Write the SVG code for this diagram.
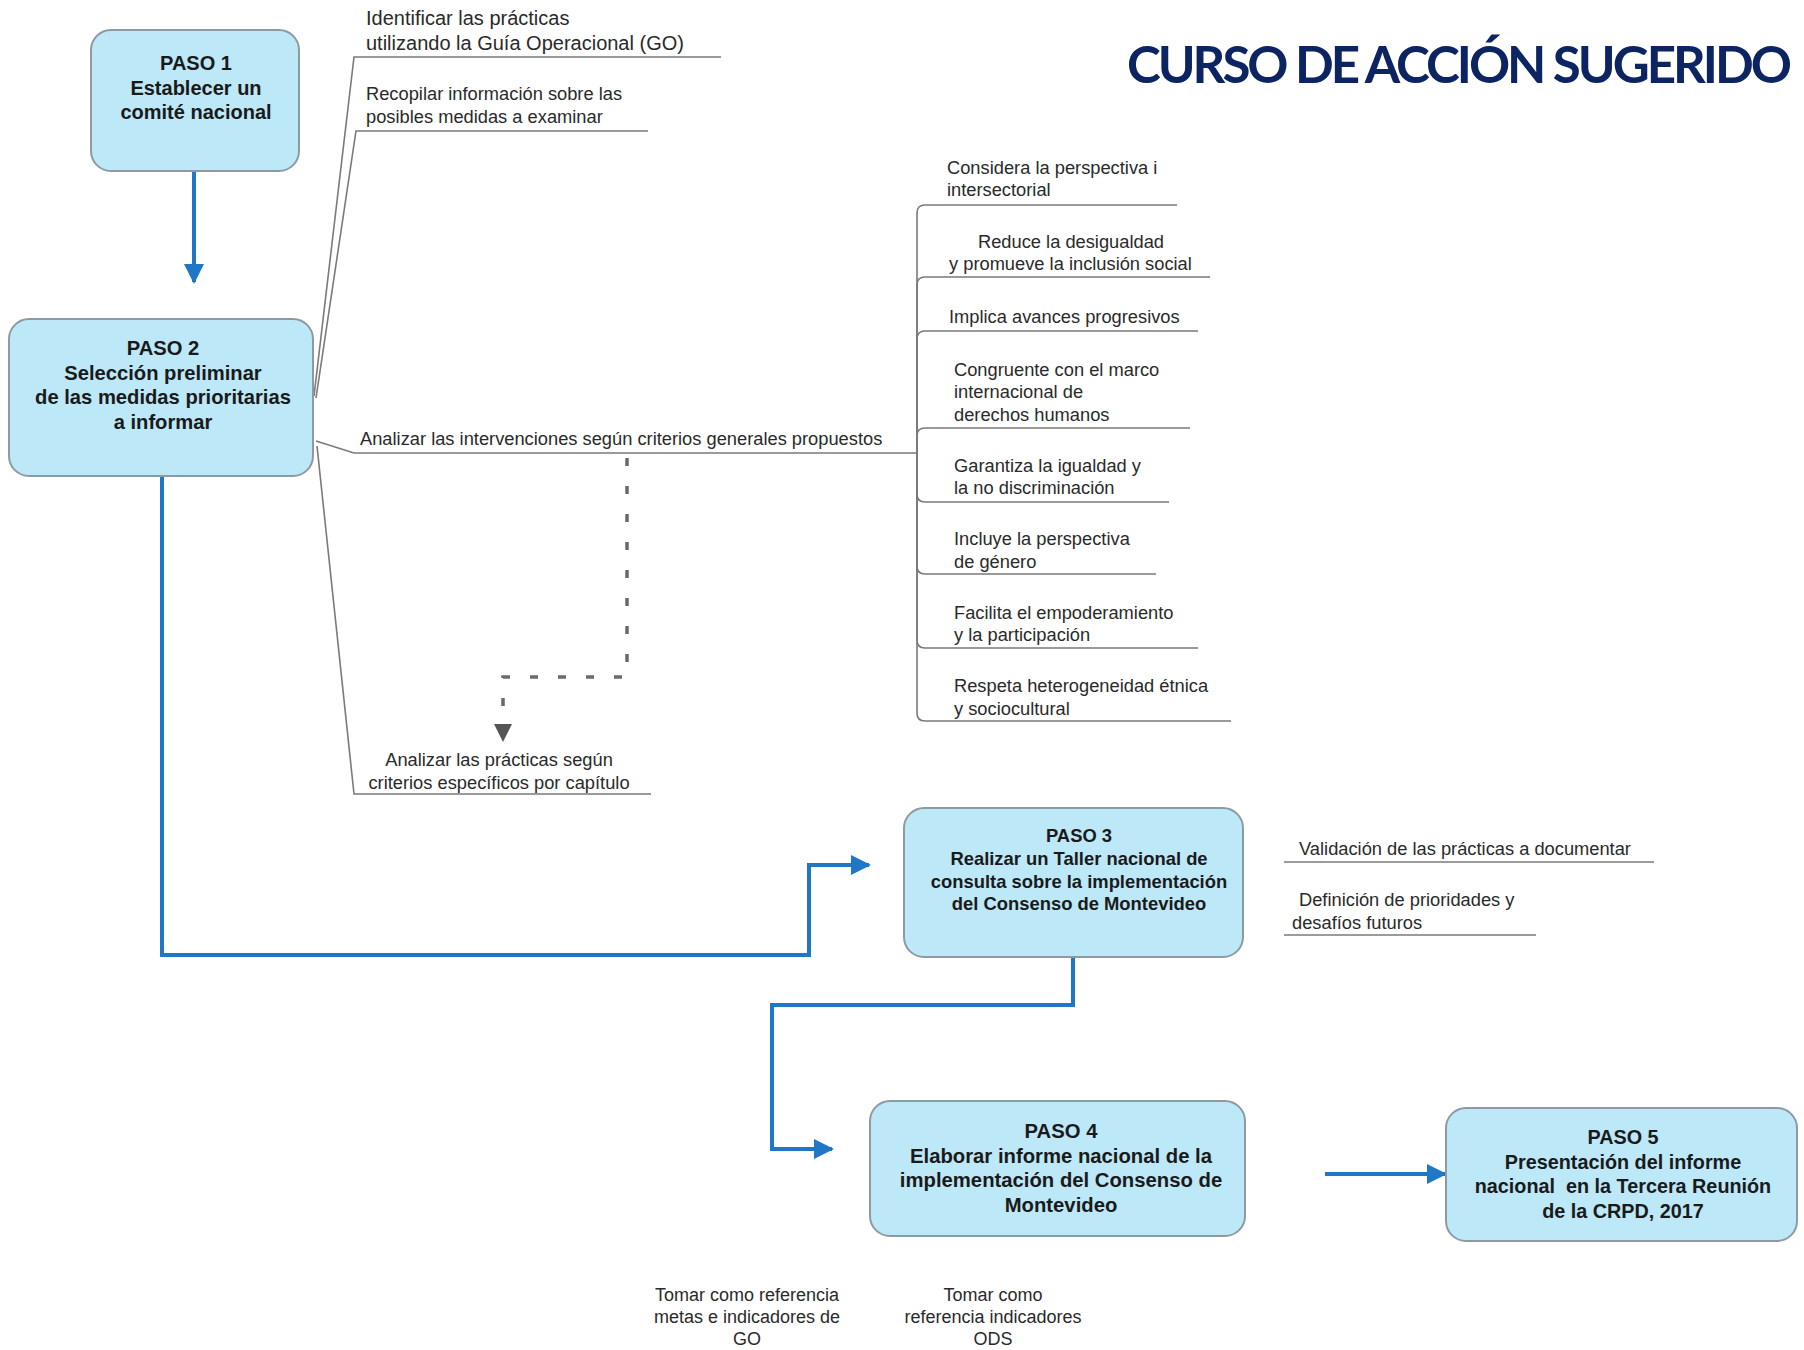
<svg xmlns="http://www.w3.org/2000/svg" width="1804" height="1350" viewBox="0 0 1804 1350">
<defs>
<style>
.box{fill:#bde8f8;stroke:#8e9aa3;stroke-width:2}
.bt{font-family:"Liberation Sans",Arial,sans-serif;font-weight:bold;fill:#1a1a1a;text-anchor:middle}
.t{font-family:"Liberation Sans",Arial,sans-serif;font-size:18.3px;fill:#2a2a2a}
.tc{font-family:"Liberation Sans",Arial,sans-serif;font-size:18px;fill:#2a2a2a;text-anchor:middle}
.g{fill:none;stroke:#7a7a7a;stroke-width:1.6}
.b{fill:none;stroke:#1f77c6;stroke-width:4}
.d{fill:none;stroke:#6a6a6a;stroke-width:3.5;stroke-dasharray:8 20}
</style>
<marker id="ab" viewBox="0 0 10 10" refX="9" refY="5" markerWidth="5" markerHeight="5" orient="auto" markerUnits="strokeWidth">
<path d="M0,0 L10,5 L0,10 z" fill="#1f77c6"/>
</marker>
</defs>
<rect width="1804" height="1350" fill="#ffffff"/>
<text x="1127" y="83" font-family="Lato,'Open Sans',sans-serif" font-weight="bold" font-size="51" letter-spacing="-3" fill="#0c2461">CURSO DE ACCIÓN SUGERIDO</text>

<g id="connectors">
<path class="b" d="M194,171 V282" marker-end="url(#ab)"/>
<path class="b" d="M162,476 V955 H809 V865 H869" marker-end="url(#ab)"/>
<path class="b" d="M1073,957 V1005 H772 V1149 H832" marker-end="url(#ab)"/>
<path class="b" d="M1325,1174 H1445" marker-end="url(#ab)"/>
<path class="g" d="M314,396 L354,57 H721"/>
<path class="g" d="M316,398 L356,131 H648"/>
<path class="g" d="M316,441 L354,453 H917"/>
<path class="g" d="M317,446 L354,794 H651"/>
<path class="g" d="M917,453 V213 Q917,205 925,205 H1177"/>
<path class="g" d="M917,453 V285 Q917,277 925,277 H1210"/>
<path class="g" d="M917,453 V339 Q917,331 925,331 H1198"/>
<path class="g" d="M917,453 V436 Q917,428 925,428 H1190"/>
<path class="g" d="M917,453 V494 Q917,502 925,502 H1169"/>
<path class="g" d="M917,453 V566 Q917,574 925,574 H1156"/>
<path class="g" d="M917,453 V640 Q917,648 925,648 H1198"/>
<path class="g" d="M917,453 V713 Q917,721 925,721 H1231"/>
<path class="d" d="M627,458 V677 H503 V722"/>
<polygon points="494,724 512,724 503,742" fill="#555555"/>
<path class="g" d="M1284,862 H1654"/>
<path class="g" d="M1284,935 H1536"/>
</g>

<g id="paso1">
<rect class="box" x="91" y="30" width="208" height="141" rx="20"/>
<text class="bt" font-size="20" x="196"><tspan x="196" y="70">PASO 1</tspan><tspan x="196" y="95">Establecer un</tspan><tspan x="196" y="119">comité nacional</tspan></text>
</g>
<g id="paso2">
<rect class="box" x="9" y="319" width="304" height="157" rx="20"/>
<text class="bt" font-size="20.2" x="163"><tspan x="163" y="355">PASO 2</tspan><tspan x="163" y="380">Selección preliminar</tspan><tspan x="163" y="404">de las medidas prioritarias</tspan><tspan x="163" y="429">a informar</tspan></text>
</g>
<g id="paso3">
<rect class="box" x="904" y="808" width="339" height="149" rx="20"/>
<text class="bt" font-size="18.4" x="1079"><tspan x="1079" y="842">PASO 3</tspan><tspan x="1079" y="865">Realizar un Taller nacional de</tspan><tspan x="1079" y="888">consulta sobre la implementación</tspan><tspan x="1079" y="910">del Consenso de Montevideo</tspan></text>
</g>
<g id="paso4">
<rect class="box" x="870" y="1101" width="375" height="135" rx="20"/>
<text class="bt" font-size="20.3" x="1061"><tspan x="1061" y="1138">PASO 4</tspan><tspan x="1061" y="1163">Elaborar informe nacional de la</tspan><tspan x="1061" y="1187">implementación del Consenso de</tspan><tspan x="1061" y="1212">Montevideo</tspan></text>
</g>
<g id="paso5">
<rect class="box" x="1446" y="1108" width="351" height="133" rx="20"/>
<text class="bt" font-size="19.8" x="1623"><tspan x="1623" y="1144">PASO 5</tspan><tspan x="1623" y="1169">Presentación del informe</tspan><tspan x="1623" y="1193">nacional&#160; en la Tercera Reunión</tspan><tspan x="1623" y="1218">de la CRPD, 2017</tspan></text>
</g>

<g id="ramas-paso2">
<text class="t" style="font-size:20px"><tspan x="366" y="25">Identificar las prácticas</tspan><tspan x="366" y="50">utilizando la Guía Operacional (GO)</tspan></text>
<text class="t"><tspan x="366" y="100">Recopilar información sobre las</tspan><tspan x="366" y="123">posibles medidas a examinar</tspan></text>
<text class="t" x="360" y="445">Analizar las intervenciones según criterios generales propuestos</text>
<text class="t" text-anchor="middle"><tspan x="499" y="766">Analizar las prácticas según</tspan><tspan x="499" y="789">criterios específicos por capítulo</tspan></text>
</g>

<g id="criterios">
<text class="t"><tspan x="947" y="174">Considera la perspectiva i</tspan><tspan x="947" y="196">intersectorial</tspan></text>
<text class="t"><tspan x="978" y="248">Reduce la desigualdad</tspan><tspan x="949" y="270">y promueve la inclusión social</tspan></text>
<text class="t" x="949" y="323">Implica avances progresivos</text>
<text class="t"><tspan x="954" y="376">Congruente con el marco</tspan><tspan x="954" y="398">internacional de</tspan><tspan x="954" y="421">derechos humanos</tspan></text>
<text class="t"><tspan x="954" y="472">Garantiza la igualdad y</tspan><tspan x="954" y="494">la no discriminación</tspan></text>
<text class="t"><tspan x="954" y="545">Incluye la perspectiva</tspan><tspan x="954" y="568">de género</tspan></text>
<text class="t"><tspan x="954" y="619">Facilita el empoderamiento</tspan><tspan x="954" y="641">y la participación</tspan></text>
<text class="t"><tspan x="954" y="692">Respeta heterogeneidad étnica</tspan><tspan x="954" y="715">y sociocultural</tspan></text>
</g>

<g id="ramas-paso3">
<text class="t" x="1299" y="855">Validación de las prácticas a documentar</text>
<text class="t"><tspan x="1299" y="906">Definición de prioridades y</tspan><tspan x="1292" y="929">desafíos futuros</tspan></text>
</g>

<g id="referencias">
<text class="tc"><tspan x="747" y="1301">Tomar como referencia</tspan><tspan x="747" y="1323">metas e indicadores de</tspan><tspan x="747" y="1345">GO</tspan></text>
<text class="tc"><tspan x="993" y="1301">Tomar como</tspan><tspan x="993" y="1323">referencia indicadores</tspan><tspan x="993" y="1345">ODS</tspan></text>
</g>
</svg>
